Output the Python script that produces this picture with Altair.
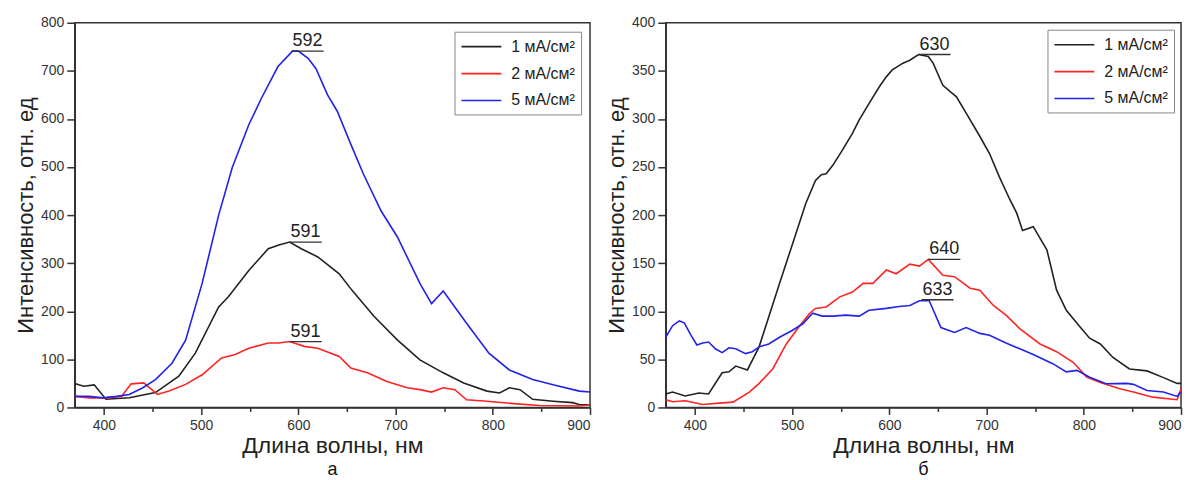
import altair as alt
import pandas as pd

SERIES = ["1 мА/см²", "2 мА/см²", "5 мА/см²"]
COLORS = ["#222222", "#ff2424", "#2222e8"]

# ---- panel а ----
a1_x = [370, 379, 390, 402, 426, 453, 477, 494, 518, 528, 549, 569, 580, 591, 603, 620, 642, 655, 678, 702, 725, 749, 770, 794, 807, 817, 828, 841, 862, 882, 889, 900]
a1_y = [50, 44, 47, 17, 20, 31, 65, 113, 209, 230, 285, 330, 338, 344, 330, 313, 278, 244, 189, 140, 99, 72, 51, 34, 30, 41, 37, 17, 13, 10, 6, 5]
a2_x = [370, 385, 402, 418, 428, 441, 455, 467, 484, 501, 521, 535, 549, 569, 580, 591, 606, 620, 642, 654, 671, 691, 712, 725, 737, 749, 761, 773, 794, 821, 848, 889, 900]
a2_y = [23, 20, 20, 23, 49, 51, 27, 34, 48, 68, 103, 110, 123, 134, 134, 137, 127, 123, 106, 82, 72, 54, 41, 37, 32, 41, 37, 16, 13, 8, 4, 3, 5]
a5_x = [370, 385, 399, 413, 426, 440, 453, 470, 484, 501, 518, 532, 549, 562, 579, 594, 600, 610, 618, 630, 640, 654, 667, 685, 702, 725, 737, 749, 773, 796, 817, 841, 862, 889, 900]
a5_y = [23, 23, 20, 23, 27, 41, 58, 92, 140, 258, 400, 499, 588, 643, 709, 741, 741, 726, 705, 650, 616, 547, 485, 409, 354, 258, 216, 242, 175, 113, 78, 58, 47, 34, 32]
a_lab = ["592", "591", "591"]
a_lab_x = [593, 591, 591]
a_lab_y = [741, 344, 137]

# ---- panel б ----
b1_x = [370, 377, 390, 404, 414, 428, 435, 442, 454, 466, 487, 504, 514, 524, 530, 535, 542, 552, 562, 569, 579, 590, 597, 603, 614, 621, 630, 640, 645, 655, 669, 679, 693, 703, 713, 724, 731, 737, 748, 762, 772, 782, 796, 806, 817, 830, 847, 865, 882, 896, 900]
b1_y = [14, 16, 12, 15, 14, 36, 37, 43, 39, 63, 129, 181, 212, 236, 242, 243, 252, 268, 285, 299, 316, 334, 344, 351, 358, 361, 367, 365, 358, 335, 323, 306, 282, 264, 240, 216, 202, 184, 188, 164, 122, 101, 84, 72, 66, 52, 40, 38, 31, 25, 25]
b2_x = [370, 377, 390, 408, 425, 439, 456, 466, 480, 494, 507, 518, 524, 535, 549, 562, 573, 583, 597, 607, 621, 631, 640, 655, 667, 683, 693, 707, 720, 734, 755, 772, 789, 803, 817, 837, 851, 871, 896, 900]
b2_y = [8, 6, 7, 3, 4.5, 5.5, 16, 25, 40, 66, 84, 98, 103, 104.5, 115, 120, 129, 129, 143, 139, 149, 147, 154, 137.5, 136, 124, 122, 106, 96, 82, 66, 58, 47, 31.5, 26, 19.5, 16, 10.7, 8, 19.5]
b5_x = [370, 377, 384, 389, 396, 402, 408, 414, 421, 428, 435, 442, 452, 459, 466, 476, 487, 500, 511, 521, 531, 542, 555, 569, 579, 597, 610, 621, 631, 641, 653, 667, 679, 693, 703, 720, 748, 768, 782, 793, 806, 823, 844, 851, 865, 882, 896, 900]
b5_y = [73, 85, 90, 88, 75, 65, 67, 68, 61, 57, 62, 61, 56, 58, 63, 66, 73, 80, 87, 98, 95, 95, 96, 95, 101, 103, 105, 106, 111, 111, 83, 78, 83, 77, 75, 67, 55, 45.5, 37, 38.5, 31.5, 24.7, 25, 24, 17.7, 16, 11.5, 16]
b_lab = ["630", "640", "633"]
b_lab_x = [630, 640, 633]
b_lab_y = [367, 154, 112]

FONT = "Liberation Sans"
UNDERLINE = 33


def panel(xs, ys, labs, lab_x, lab_y, ymax, ystep, caption, loff):
    rows = []
    for name, sx, sy in zip(SERIES, xs, ys):
        for i, (xv, yv) in enumerate(zip(sx, sy)):
            rows.append({"nm": xv, "val": yv, "s": name, "o": i})
    df = pd.DataFrame(rows)
    ldf = pd.DataFrame({"t": labs, "x": lab_x, "y": lab_y,
                        "x2": [v + UNDERLINE for v in lab_x]})

    xsc = alt.Scale(domain=[370, 900], nice=False, zero=False)
    ysc = alt.Scale(domain=[0, ymax], nice=False)
    xaxis = alt.Axis(values=list(range(400, 901, 50)),
                     labelExpr="datum.value % 100 == 0 ? datum.label : ''",
                     tickSize={"condition": {"test": "datum.value % 100 == 0", "value": 7}, "value": 4},
                     title="Длина волны, нм", titlePadding=2, titleFontSize=23,
                     labelPadding=4)
    yvals = [v * ystep / 2 for v in range(0, int(2 * ymax / ystep) + 1)]
    yaxis = alt.Axis(values=yvals,
                     labelExpr=f"datum.value % {ystep} == 0 ? datum.label : ''",
                     tickSize={"condition": {"test": f"datum.value % {ystep} == 0", "value": 8}, "value": 4},
                     title="Интенсивность, отн. ед", titlePadding=3, titleFontSize=22)

    lines = alt.Chart(df).mark_line(strokeWidth=1.6).encode(
        x=alt.X("nm:Q", scale=xsc, axis=xaxis),
        y=alt.Y("val:Q", scale=ysc, axis=yaxis),
        color=alt.Color("s:N", scale=alt.Scale(domain=SERIES, range=COLORS),
                        legend=alt.Legend(title=None, orient="top-right", offset=loff,
                                          symbolType="M-1,0H4", symbolSize=256,
                                          symbolStrokeWidth=1.6, labelOffset=33,
                                          labelFontSize=16,
                                          labelFont=FONT, labelColor="#222",
                                          strokeColor="#888", padding=6,
                                          rowPadding=10, fillColor="white")),
        order="o:Q",
    )
    rule = alt.Chart(ldf).mark_rule(color="#333", strokeWidth=1.3).encode(
        x="x:Q", x2="x2:Q", y="y:Q")
    text = alt.Chart(ldf).mark_text(align="left", baseline="bottom", dy=-1, dx=1,
                                    fontSize=18, font=FONT, color="#222").encode(
        x="x:Q", y="y:Q", text="t:N")
    return alt.layer(lines, rule, text).properties(
        width=517, height=386,
        title=alt.TitleParams(caption, orient="bottom", fontSize=18, font=FONT,
                              fontWeight="normal", color="#111", offset=4))


left = panel([a1_x, a2_x, a5_x], [a1_y, a2_y, a5_y], a_lab, a_lab_x, a_lab_y, 800, 100, "а", 9)
right = panel([b1_x, b2_x, b5_x], [b1_y, b2_y, b5_y], b_lab, b_lab_x, b_lab_y, 400, 50, "б", 7)

chart = alt.hconcat(left, right, spacing=10).resolve_legend(color="independent").properties(
    padding={"left": 5, "top": 6, "right": 3, "bottom": 0}
).configure_view(stroke="#333", strokeWidth=1.5).configure_axis(
    grid=False, domainColor="#333", domainWidth=1.5, tickColor="#333", tickWidth=1.5,
    labelColor="#333", titleColor="#222", labelFont=FONT, titleFont=FONT,
    labelFontSize=14, titleFontSize=20, titleFontWeight="normal", labelPadding=3
)

chart.save("out.html", embed_options={"renderer": "svg", "actions": False})
